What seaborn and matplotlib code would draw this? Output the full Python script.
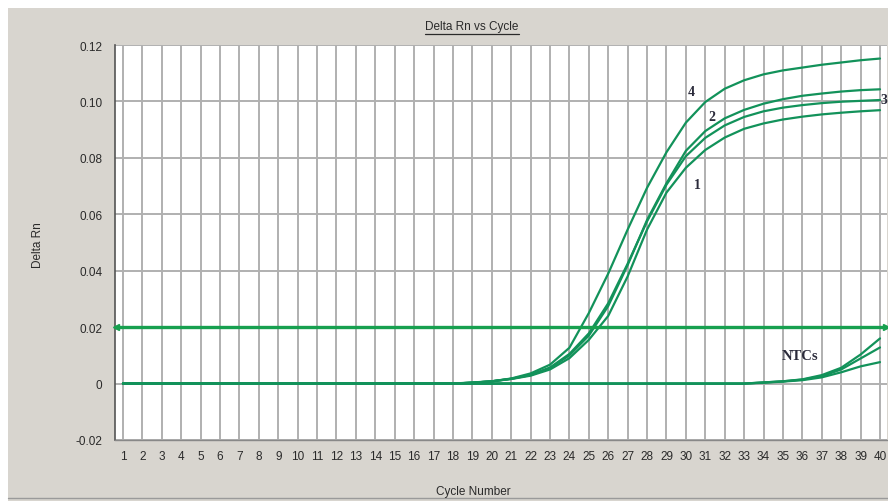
import numpy as np
import pandas as pd
import matplotlib
matplotlib.use("Agg")
import matplotlib.pyplot as plt
from matplotlib.patches import Rectangle
from matplotlib.lines import Line2D
import seaborn as sns

# ---- data ----
cycles = list(range(1, 41))
base18 = [0.0] * 18
sample1 = base18 + [0.0003, 0.0008, 0.0016, 0.0028, 0.0050, 0.0090, 0.0155, 0.0240,
                    0.0380, 0.0546, 0.0677, 0.0765, 0.0828, 0.0872, 0.0903, 0.0922,
                    0.0936, 0.0946, 0.0954, 0.0960, 0.0965, 0.0969]
sample2 = base18 + [0.0003, 0.0008, 0.0017, 0.0030, 0.0055, 0.0100, 0.0170, 0.0275,
                    0.0420, 0.0580, 0.0710, 0.0825, 0.0895, 0.0940, 0.0970, 0.0992,
                    0.1008, 0.1020, 0.1028, 0.1035, 0.1040, 0.1043]
sample3 = base18 + [0.0003, 0.0008, 0.0017, 0.0031, 0.0057, 0.0105, 0.0178, 0.0285,
                    0.0425, 0.0575, 0.0705, 0.0806, 0.0871, 0.0915, 0.0945, 0.0965,
                    0.0978, 0.0987, 0.0994, 0.0999, 0.1002, 0.1005]
sample4 = base18 + [0.0004, 0.0008, 0.0018, 0.0036, 0.0067, 0.0127, 0.0250, 0.0390,
                    0.0546, 0.0694, 0.0820, 0.0925, 0.0998, 0.1045, 0.1075, 0.1096,
                    0.1110, 0.1120, 0.1130, 0.1138, 0.1146, 0.1152]
ntc_a = [0.0] * 33 + [0.0004, 0.0008, 0.0015, 0.0030, 0.0056, 0.0103, 0.0160]
ntc_b = [0.0] * 33 + [0.0004, 0.0008, 0.0014, 0.0026, 0.0050, 0.0089, 0.0128]
ntc_c = [0.0] * 33 + [0.0003, 0.0007, 0.0012, 0.0022, 0.0040, 0.0061, 0.0076]
threshold = 0.02

series = {"1": sample1, "2": sample2, "3": sample3, "4": sample4,
          "NTC a": ntc_a, "NTC b": ntc_b, "NTC c": ntc_c}

labels_txt = ["4", "2", "1", "3", "NTCs"]
labels_x = [30.3, 31.35, 30.6, 40.22, 35.9]
labels_y = [0.1035, 0.0947, 0.0706, 0.1007, 0.0098]

yticks = [-0.02, 0.0, 0.02, 0.04, 0.06, 0.08, 0.10, 0.12]
ytick_labels = ["-0.02", "0", "0.02", "0.04", "0.06", "0.08", "0.10", "0.12"]

rows = []
for name, vals in series.items():
    for c, v in zip(cycles, vals):
        rows.append({"well": name, "cycle": c, "rn": v})
df = pd.DataFrame(rows)

# ---- figure ----
sns.set_theme(style="white")
plt.rcParams["font.family"] = ["Liberation Sans", "DejaVu Sans"]

W, H = 888, 502
fig = plt.figure(figsize=(W / 100, H / 100), dpi=100)
fig.patch.set_facecolor("white")
fig.patches.append(Rectangle((8 / W, 0), 1 - 8 / W, 1 - 9 / H, transform=fig.transFigure,
                             facecolor="#d8d5cf", edgecolor="none", zorder=-10))
fig.lines.append(Line2D([8 / W, 1], [3 / H, 3 / H], transform=fig.transFigure,
                        color="#9a9a9a", lw=1.0))

ax = fig.add_axes([115 / W, 1 - 441 / H, (887 - 115) / W, (441 - 46) / H])
ax.set_facecolor("white")

green = "#12925a"
sns.lineplot(data=df, x="cycle", y="rn", units="well", estimator=None,
             color=green, lw=1.6, ax=ax, legend=False, zorder=3)

ax.axhline(threshold, color="#17a04f", lw=2.4, zorder=4)
ax.plot([0.62], [threshold], marker="<", color="#17a04f", ms=5, clip_on=False, zorder=5)
ax.plot([40.32], [threshold], marker=">", color="#17a04f", ms=5, clip_on=False, zorder=5)

for t, x, y in zip(labels_txt, labels_x, labels_y):
    ax.text(x, y, t, family=["Liberation Serif", "DejaVu Serif"], fontweight="bold",
            fontsize=10.5 if t == "NTCs" else 10, color="#2b2b3b",
            ha="center", va="center", zorder=6)

ax.set_xlim(0.59, 40.36)
ax.set_ylim(-0.02, 0.12)
ax.set_xticks(cycles)
ax.set_xticklabels([str(c) for c in cycles])
ax.set_yticks(yticks)
ax.set_yticklabels(ytick_labels)

ax.grid(True, color="#b0b0b0", lw=1.4)
ax.set_axisbelow(True)
ax.tick_params(axis="both", labelsize=8.5, colors="#2a2a2a", length=0, pad=7)
ax.tick_params(axis="y", pad=9)

for s in ["top", "right"]:
    ax.spines[s].set_visible(False)
ax.spines["left"].set_color("#555555")
ax.spines["left"].set_linewidth(1.2)
ax.spines["bottom"].set_color("#888888")
ax.spines["bottom"].set_linewidth(1.0)

ax.set_xlabel("")
ax.set_ylabel("")
fig.text(38 / W, 1 - 245 / H, "Delta Rn", rotation=90, ha="center", va="center",
         fontsize=8.5, color="#2a2a2a")
fig.text(473 / W, 1 - 492 / H, "Cycle Number", ha="center", va="center",
         fontsize=8.5, color="#2a2a2a")

title = fig.text(472 / W, 1 - 27 / H, "Delta Rn vs Cycle", ha="center", va="center",
                 fontsize=8.5, color="#2a2a2a")
fig.canvas.draw()
bb = title.get_window_extent(renderer=fig.canvas.get_renderer())
uy = (bb.y0 - 1.5) / H
fig.lines.append(Line2D([bb.x0 / W, bb.x1 / W], [uy, uy], transform=fig.transFigure,
                        color="#2a2a2a", lw=0.9))

fig.savefig("out.png", dpi=100, facecolor=fig.get_facecolor())
